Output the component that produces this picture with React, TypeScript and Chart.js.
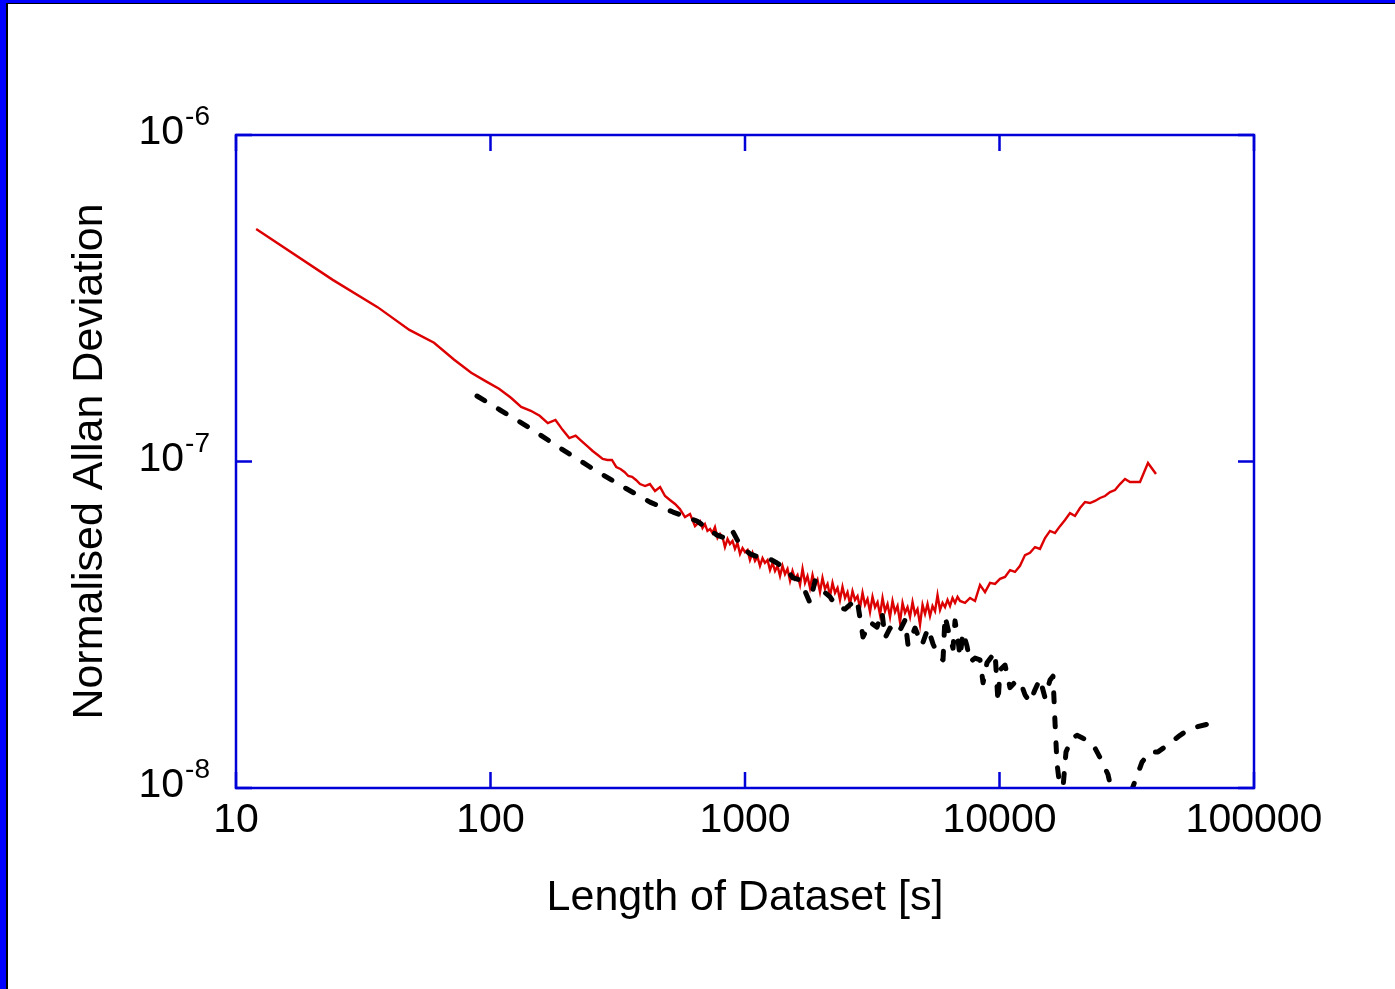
import React, { useEffect, useRef } from "react";
import { Chart, registerables } from "chart.js";

Chart.register(...registerables);

const FONT = '"Liberation Sans", Arial, Helvetica, sans-serif';

// Red trace: averaging time [s] and normalised Allan deviation
const redTau = [
  12, 24, 36, 48, 60, 72, 84, 96, 108, 120,
  132, 144, 156, 168, 180, 192, 204, 216, 228, 240,
  252, 264, 276, 288, 300, 312, 324, 336, 348, 360,
  373, 387, 405, 423, 443, 464, 485, 507, 531, 555,
  581, 608, 636, 666, 681, 696, 712, 729, 745, 762,
  780, 798, 816, 834, 854, 873, 893, 913, 934, 956,
  978, 1000, 1023, 1046, 1070, 1095, 1120, 1145, 1172, 1198,
  1226, 1254, 1283, 1312, 1342, 1373, 1404, 1436, 1469, 1503,
  1537, 1572, 1608, 1645, 1683, 1721, 1760, 1801, 1842, 1884,
  1927, 1971, 2016, 2062, 2110, 2158, 2207, 2258, 2310, 2362,
  2416, 2472, 2528, 2586, 2645, 2706, 2768, 2831, 2896, 2962,
  3030, 3099, 3170, 3243, 3317, 3393, 3471, 3550, 3631, 3714,
  3799, 3886, 3975, 4066, 4159, 4254, 4352, 4451, 4553, 4656,
  4763, 4872, 4984, 5098, 5214, 5333, 5455, 5580, 5708, 5839,
  5972, 6109, 6249, 6391, 6538, 6687, 6841, 6997, 7321, 7660,
  8014, 8385, 8773, 9179, 9604, 10048, 10511, 10998, 11507, 12039,
  12596, 13179, 13788, 14426, 15094, 15792, 16523, 17288, 18087, 18925,
  19801, 20716, 21675, 22678, 23727, 24826, 25975, 27176, 28434, 29750,
  31126, 32567, 35650, 37300, 38320, 41200,
];
const redDev = [
  5.15e-7, 3.6e-7, 2.97e-7, 2.53e-7, 2.31e-7, 2.05e-7, 1.87e-7, 1.76e-7, 1.67e-7, 1.57e-7,
  1.47e-7, 1.43e-7, 1.38e-7, 1.31e-7, 1.34e-7, 1.25e-7, 1.18e-7, 1.2e-7, 1.155e-7, 1.115e-7,
  1.077e-7, 1.047e-7, 1.018e-7, 1.011e-7, 1.011e-7, 9.62e-8, 9.49e-8, 9.29e-8, 9.03e-8, 8.97e-8,
  8.78e-8, 8.53e-8, 8.41e-8, 8.53e-8, 8.12e-8, 8.35e-8, 7.84e-8, 7.62e-8, 7.41e-8, 7.15e-8,
  6.76e-8, 6.91e-8, 6.34e-8, 6.57e-8, 6.26e-8, 6.43e-8, 6.13e-8, 6.21e-8, 6.04e-8, 6.3e-8,
  5.83e-8, 6.0e-8, 5.87e-8, 5.47e-8, 5.79e-8, 5.59e-8, 5.71e-8, 5.4e-8, 5.63e-8, 5.21e-8,
  5.43e-8, 5.28e-8, 5.36e-8, 4.99e-8, 5.25e-8, 4.96e-8, 5.1e-8, 4.79e-8, 5.06e-8, 4.89e-8,
  4.99e-8, 4.65e-8, 4.89e-8, 4.62e-8, 4.79e-8, 4.46e-8, 4.79e-8, 4.52e-8, 4.69e-8, 4.31e-8,
  4.62e-8, 4.37e-8, 4.49e-8, 4.19e-8, 4.69e-8, 4.25e-8, 4.46e-8, 4.1e-8, 4.49e-8, 4.16e-8,
  4.34e-8, 3.98e-8, 4.4e-8, 4.07e-8, 4.22e-8, 3.87e-8, 4.25e-8, 3.96e-8, 4.1e-8, 3.77e-8,
  4.13e-8, 3.82e-8, 3.98e-8, 3.66e-8, 4.01e-8, 3.77e-8, 3.87e-8, 3.56e-8, 3.96e-8, 3.64e-8,
  3.79e-8, 3.46e-8, 3.85e-8, 3.58e-8, 3.71e-8, 3.39e-8, 3.82e-8, 3.48e-8, 3.66e-8, 3.34e-8,
  3.74e-8, 3.46e-8, 3.61e-8, 3.22e-8, 3.69e-8, 3.44e-8, 3.58e-8, 3.34e-8, 3.71e-8, 3.41e-8,
  3.53e-8, 3.16e-8, 3.64e-8, 3.41e-8, 3.66e-8, 3.36e-8, 3.61e-8, 3.48e-8, 3.9e-8, 3.51e-8,
  3.69e-8, 3.58e-8, 3.77e-8, 3.61e-8, 3.82e-8, 3.69e-8, 3.85e-8, 3.74e-8, 3.69e-8, 3.82e-8,
  3.74e-8, 4.19e-8, 3.98e-8, 4.25e-8, 4.22e-8, 4.37e-8, 4.43e-8, 4.65e-8, 4.59e-8, 4.79e-8,
  5.17e-8, 5.25e-8, 5.47e-8, 5.4e-8, 5.83e-8, 6.13e-8, 6.04e-8, 6.34e-8, 6.62e-8, 6.95e-8,
  6.81e-8, 7.2e-8, 7.51e-8, 7.46e-8, 7.57e-8, 7.73e-8, 7.84e-8, 8.06e-8, 8.18e-8, 8.53e-8,
  8.84e-8, 8.65e-8, 8.65e-8, 9.42e-8, 9.9e-8, 9.16e-8,
];

// Black dashed trace
const blackTau = [
  88.5, 109, 142.9, 187.6, 246, 322.7, 423.4, 521.3, 647.8, 776.2,
  834.4, 889, 955.8, 1046.3, 1124.9, 1231.3, 1336, 1462.3, 1543.9, 1644.8,
  1721, 1800.6, 1884, 2007.2, 2157.9, 2298.9, 2471.7, 2633.3, 2755.1, 2908.6,
  3099.2, 3302, 3453.1, 3549.8, 3714.3, 3993.1, 4254.3, 4371.3, 4656.3, 4960.8,
  5237.5, 5480, 5733.6, 5999, 6108.6, 6391.4, 6567, 6687.4, 6871, 6996.7,
  7189, 7453, 7659.6, 8013.9, 8384.9, 8615.9, 8931.3, 9603.8, 9865, 10048,
  10511, 10998, 11507, 12039, 12596, 13179, 13788, 14426, 15094, 15792,
  16226, 16523, 16823, 17288, 17602, 18250, 19271, 20164, 21286, 23301,
  24826, 26688, 29750, 33460, 36300, 39027, 41953, 45525, 51210, 56050,
  65958,
];
const blackDev = [
  1.587e-7, 1.438e-7, 1.266e-7, 1.1e-7, 9.62e-8, 8.47e-8, 7.51e-8, 7.0e-8, 6.57e-8, 5.95e-8,
  5.83e-8, 6.17e-8, 5.55e-8, 5.21e-8, 5.1e-8, 5.06e-8, 4.89e-8, 4.65e-8, 4.4e-8, 4.34e-8,
  4.01e-8, 3.69e-8, 4.31e-8, 4.04e-8, 3.85e-8, 3.58e-8, 3.53e-8, 3.69e-8, 3.79e-8, 2.9e-8,
  3.22e-8, 3.11e-8, 3.46e-8, 2.88e-8, 3.09e-8, 2.96e-8, 3.27e-8, 2.74e-8, 3.09e-8, 2.74e-8,
  3.09e-8, 2.76e-8, 2.56e-8, 2.47e-8, 3.36e-8, 2.88e-8, 2.68e-8, 3.25e-8, 2.84e-8, 2.52e-8,
  3.0e-8, 2.72e-8, 2.43e-8, 2.5e-8, 2.47e-8, 2.1e-8, 2.42e-8, 2.61e-8, 1.83e-8, 2.3e-8,
  2.38e-8, 2.03e-8, 2.11e-8, 2.13e-8, 1.93e-8, 1.83e-8, 2.0e-8, 2.16e-8, 1.89e-8, 2.14e-8,
  2.2e-8, 1.59e-8, 1.19e-8, 1.0e-8, 9.19e-9, 1.29e-8, 1.42e-8, 1.45e-8, 1.42e-8, 1.36e-8,
  1.24e-8, 1.1e-8, 7.44e-9, 1.01e-8, 1.2e-8, 1.29e-8, 1.29e-8, 1.35e-8, 1.45e-8, 1.52e-8,
  1.57e-8,
];

const xTickValues = [10, 100, 1000, 10000, 100000];
const yTickExponents = [-8, -7, -6];
const xAxisTitle = "Length of Dataset [s]";
const yAxisTitle = "Normalised Allan Deviation";

const AXIS_COLOR = "#0000d8";

export default function App() {
  const canvasRef = useRef<HTMLCanvasElement | null>(null);

  useEffect(() => {
    const canvas = canvasRef.current;
    if (!canvas) return;
    const prevMargin = document.body.style.margin;
    document.body.style.margin = "0";

    const framePlugin = {
      id: "frameTicks",
      afterDatasetsDraw(chart: any) {
        const { ctx, chartArea } = chart;
        const { left, right, top, bottom } = chartArea;
        const xs = chart.scales.x;
        const ys = chart.scales.y;
        ctx.save();
        ctx.strokeStyle = AXIS_COLOR;
        ctx.lineWidth = 2.5;
        ctx.beginPath();
        for (const v of xTickValues) {
          const px = xs.getPixelForValue(v);
          ctx.moveTo(px, bottom);
          ctx.lineTo(px, bottom - 16);
          ctx.moveTo(px, top);
          ctx.lineTo(px, top + 16);
        }
        for (const e of yTickExponents) {
          const py = ys.getPixelForValue(Math.pow(10, e));
          ctx.moveTo(left, py);
          ctx.lineTo(left + 16, py);
          ctx.moveTo(right, py);
          ctx.lineTo(right - 16, py);
        }
        ctx.stroke();
        ctx.strokeRect(left, top, right - left, bottom - top);
        ctx.restore();
      },
      afterDraw(chart: any) {
        const { ctx, chartArea } = chart;
        const ys = chart.scales.y;
        const mainFont = `41px ${FONT}`;
        const supFont = `28px ${FONT}`;
        const rightEdge = chartArea.left - 26;
        ctx.save();
        ctx.fillStyle = "#000";
        ctx.textAlign = "left";
        ctx.textBaseline = "alphabetic";
        for (const e of yTickExponents) {
          const py = ys.getPixelForValue(Math.pow(10, e));
          const base = "10";
          const sup = String(e);
          ctx.font = supFont;
          const sw = ctx.measureText(sup).width;
          ctx.font = mainFont;
          const mw = ctx.measureText(base).width;
          ctx.fillText(base, rightEdge - sw - 1 - mw, py + 9);
          ctx.font = supFont;
          ctx.fillText(sup, rightEdge - sw, py - 10);
        }
        ctx.restore();
      },
    };

    const chart = new Chart(canvas, {
      type: "line",
      data: {
        datasets: [
          {
            label: "Black dashed trace",
            data: blackTau.map((t, i) => ({ x: t, y: blackDev[i] })),
            borderColor: "#000000",
            borderWidth: 5,
            borderDash: [9, 16],
            borderCapStyle: "round",
            borderJoinStyle: "round",
            pointRadius: 0,
            fill: false,
            tension: 0,
            clip: 0,
          },
          {
            label: "Red trace",
            data: redTau.map((t, i) => ({ x: t, y: redDev[i] })),
            borderColor: "#dd0000",
            borderWidth: 2.4,
            pointRadius: 0,
            fill: false,
            tension: 0,
            clip: 0,
          },
        ],
      },
      options: {
        animation: false,
        responsive: false,
        maintainAspectRatio: false,
        events: [],
        layout: { padding: { left: 0, top: 135, right: 141, bottom: 0 } },
        plugins: {
          legend: { display: false },
          tooltip: { enabled: false },
        },
        scales: {
          x: {
            type: "logarithmic",
            position: "bottom",
            min: 10,
            max: 100000,
            grid: { display: false, drawTicks: false },
            border: { display: false },
            ticks: {
              color: "#000",
              font: { family: FONT, size: 41 },
              padding: 8,
              maxRotation: 0,
              autoSkip: false,
              callback: (v: any) => String(v),
            },
            afterBuildTicks: (scale: any) => {
              scale.ticks = xTickValues.map((v) => ({ value: v }));
            },
            afterFit: (scale: any) => {
              scale.height = 201;
            },
            title: {
              display: true,
              text: xAxisTitle,
              color: "#000",
              font: { family: FONT, size: 43, lineHeight: 1 },
              padding: { top: 0, bottom: 69.5 },
            },
          },
          y: {
            type: "logarithmic",
            position: "left",
            min: 1e-8,
            max: 1e-6,
            grid: { display: false, drawTicks: false },
            border: { display: false },
            ticks: { display: false },
            afterBuildTicks: (scale: any) => {
              scale.ticks = yTickExponents.map((e) => ({ value: Math.pow(10, e) }));
            },
            afterFit: (scale: any) => {
              scale.width = 236;
            },
            title: {
              display: true,
              text: yAxisTitle,
              color: "#000",
              font: { family: FONT, size: 43, lineHeight: 1 },
              padding: { top: 68.5, bottom: 0 },
            },
          },
        },
      } as any,
      plugins: [framePlugin],
    });

    return () => {
      chart.destroy();
      document.body.style.margin = prevMargin;
    };
  }, []);

  return (
    <div
      style={{
        position: "fixed",
        left: 0,
        top: 0,
        width: 1395,
        height: 989,
        background: "#ffffff",
        overflow: "hidden",
      }}
    >
      <div
        style={{
          position: "absolute",
          left: 0,
          top: 0,
          width: 1395,
          height: 989,
          boxSizing: "border-box",
          borderLeft: "6px solid #0000ff",
          borderTop: "3px solid #0000ff",
        }}
      >
        <div
          style={{
            width: "100%",
            height: "100%",
            boxSizing: "border-box",
            borderLeft: "2px solid #000000",
            borderTop: "1px solid #000000",
          }}
        />
      </div>
      <canvas
        ref={canvasRef}
        width={1395}
        height={989}
        style={{ position: "absolute", left: 0, top: 0, width: 1395, height: 989 }}
      />
    </div>
  );
}
